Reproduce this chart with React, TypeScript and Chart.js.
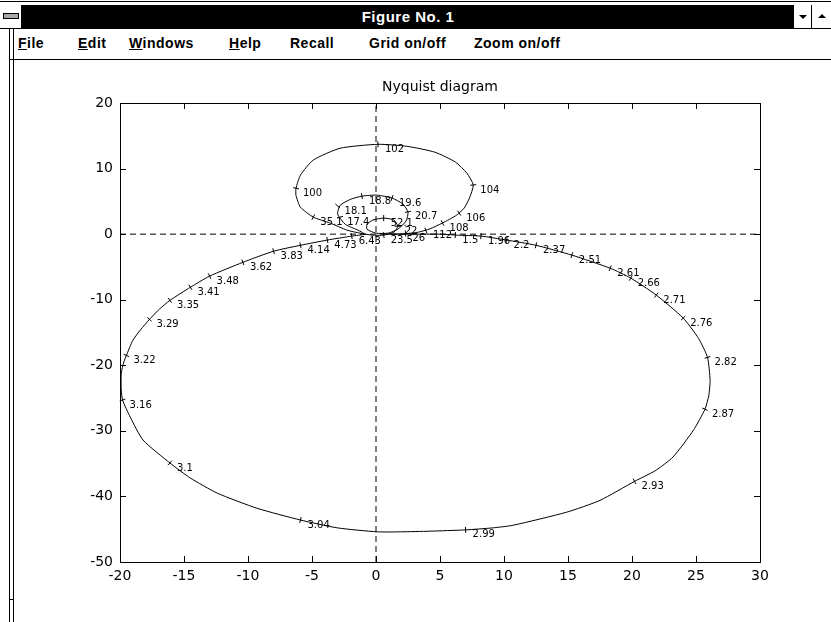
import React, { useEffect, useRef } from "react";
import { Chart, registerables } from "chart.js";

Chart.register(...registerables);

// ---------- data ----------
const windowTitle = "Figure No. 1";
const menuItems = ["File", "Edit", "Windows", "Help", "Recall", "Grid on/off", "Zoom on/off"];
const menuUnderlined = [true, true, true, true, false, false, false];
const chartTitle = "Nyquist diagram";

const xTicks = [-20, -15, -10, -5, 0, 5, 10, 15, 20, 25, 30];
const yTicks = [-50, -40, -30, -20, -10, 0, 10, 20];

// Nyquist path (real part / imaginary part)
const nyqX = [
  0.7, 1.9, 3.4, 5.0, 6.25, 8.2, 10.2, 12.5, 15.3, 18.3, 19.9, 21.9, 24.0, 25.2, 25.9, 26.1, 26.0, 25.7,
  24.8, 23.2, 21.8, 20.2, 17.5, 14.9, 10.7, 9.1, 7.0, 4.2, 1.9, 0.1, -3.0, -5.9, -9.3, -12.4, -14.5, -16.1,
  -18.2, -19.2, -19.8, -19.9, -19.9, -19.7, -19.5, -19.0, -18.4, -17.7, -16.9, -16.1, -14.5, -13.0, -10.4,
  -8.0, -5.9, -3.8, -1.9, -0.9,
  -1.4, -2.4, -3.0, -2.8, -2.0, -1.1, 0.1, 1.25, 2.1, 2.5, 2.35, 1.7, 0.95, 0, -0.7, -0.7, -0.25, 0.6, 1.4,
  1.7, 1.4, 0.6, -0.3, -1.25,
  -2.25, -3.6, -4.9, -5.9, -6.25, -6.25, -5.9, -4.9, -2.8, 0.15, 2.4, 4.6, 6.2, 7.1, 7.6, 7.3, 6.9, 6.3, 5.2,
  4.2, 3.3, 2.2, 1.2,
];
const nyqY = [
  0, 0, 0, 0, -0.15, -0.3, -0.9, -1.7, -3.2, -5.2, -6.7, -9.3, -12.8, -15.9, -18.8, -22.3, -24.6, -26.7,
  -29.9, -34.0, -36.1, -37.7, -40.6, -42.4, -44.4, -44.8, -45.1, -45.3, -45.4, -45.4, -44.8, -43.6, -41.8,
  -39.5, -37.2, -34.9, -31.4, -27.9, -25.3, -23.8, -21.2, -19.5, -18.5, -16.2, -14.6, -13.0, -11.4, -10.1,
  -8.1, -6.4, -4.3, -2.6, -1.7, -0.9, -0.3, 0,
  0.6, 1.5, 3.05, 4.4, 5.3, 5.8, 5.95, 5.5, 4.6, 3.35, 2.0, 0.75, 0.15, 0.15, 0.75, 1.5, 2.15, 2.45, 2.15,
  1.2, 0.3, -0.15, -0.15, 0.15,
  0.6, 1.7, 2.6, 4.1, 5.9, 7.0, 9.0, 11.3, 13.1, 13.7, 13.4, 12.5, 11.0, 9.3, 7.5, 5.5, 4.0, 2.9, 1.7,
  0.8, 0.3, 0.05, 0,
];

// frequency marks along the curve
const markLabels = [
  "1.5", "1.96", "2.2", "2.37", "2.51", "2.61", "2.66", "2.71", "2.76", "2.82", "2.87", "2.93", "2.99",
  "3.04", "3.1", "3.16", "3.22", "3.29", "3.35", "3.41", "3.48", "3.62", "3.83", "4.14", "4.73", "6.43",
  "17.4", "18.1", "18.8", "19.6", "20.7", "35.1", "52.1", "22", "23.5", "26",
  "100", "102", "104", "106", "108", "112",
];
const markX = [
  6.2, 8.2, 10.2, 12.5, 15.3, 18.3, 19.9, 21.9, 24.0, 25.9, 25.7, 20.2, 7.0,
  -5.9, -16.1, -19.8, -19.5, -17.7, -16.1, -14.5, -13.0, -10.4, -8.0, -5.9, -3.8, -1.9,
  -2.8, -3.0, -1.1, 1.25, 2.5, -4.9, 0.6, 1.7, 0.6, 2.3,
  -6.25, 0.15, 7.6, 6.5, 5.2, 3.9,
];
const markY = [
  -0.15, -0.3, -0.9, -1.7, -3.2, -5.2, -6.7, -9.3, -12.8, -18.8, -26.7, -37.7, -45.1,
  -43.6, -34.9, -25.3, -18.5, -13.0, -10.1, -8.1, -6.4, -4.3, -2.6, -1.7, -0.9, -0.3,
  2.6, 4.3, 5.8, 5.5, 3.4, 2.6, 2.45, 1.2, -0.15, 0.1,
  7.0, 13.7, 7.5, 3.2, 1.7, 0.55,
];

const FONT = "'DejaVu Sans', 'Liberation Sans', sans-serif";

const matlabPlugin = {
  id: "matlabAxes",
  afterDatasetsDraw(chart: any) {
    const { ctx, chartArea: a, scales } = chart;
    const xs = scales.x;
    const ys = scales.y;
    ctx.save();
    ctx.strokeStyle = "#000";
    ctx.lineWidth = 1;
    // box
    ctx.strokeRect(Math.round(a.left) + 0.5, Math.round(a.top) + 0.5, Math.round(a.right - a.left), Math.round(a.bottom - a.top));
    // inward ticks
    const tl = 6;
    ctx.beginPath();
    xTicks.forEach((v) => {
      const px = Math.round(xs.getPixelForValue(v)) + 0.5;
      ctx.moveTo(px, a.bottom);
      ctx.lineTo(px, a.bottom - tl);
      ctx.moveTo(px, a.top);
      ctx.lineTo(px, a.top + tl);
    });
    yTicks.forEach((v) => {
      const py = Math.round(ys.getPixelForValue(v)) + 0.5;
      ctx.moveTo(a.left, py);
      ctx.lineTo(a.left + tl, py);
      ctx.moveTo(a.right, py);
      ctx.lineTo(a.right - tl, py);
    });
    ctx.stroke();

    // title
    ctx.fillStyle = "#000";
    ctx.font = `14px ${FONT}`;
    ctx.textAlign = "center";
    ctx.textBaseline = "middle";
    ctx.fillText(chartTitle, (a.left + a.right) / 2, a.top - 16);

    // curve pixel coords
    const pts = nyqX.map((x, i) => [xs.getPixelForValue(x), ys.getPixelForValue(nyqY[i])]);
    ctx.font = `10px ${FONT}`;
    ctx.textAlign = "left";
    ctx.textBaseline = "middle";
    ctx.beginPath();
    markLabels.forEach((lab, i) => {
      const px = xs.getPixelForValue(markX[i]);
      const py = ys.getPixelForValue(markY[i]);
      // nearest path point for tangent direction
      let best = 0;
      let bd = Infinity;
      pts.forEach((p, j) => {
        const d = (p[0] - px) ** 2 + (p[1] - py) ** 2;
        if (d < bd) {
          bd = d;
          best = j;
        }
      });
      const p0 = pts[Math.max(0, best - 1)];
      const p1 = pts[Math.min(pts.length - 1, best + 1)];
      let tx = p1[0] - p0[0];
      let ty = p1[1] - p0[1];
      const len = Math.hypot(tx, ty) || 1;
      tx /= len;
      ty /= len;
      const nx = -ty * 3;
      const ny = tx * 3;
      ctx.moveTo(px - nx, py - ny);
      ctx.lineTo(px + nx, py + ny);
      ctx.fillText(lab, px + 7, py + 5);
    });
    ctx.stroke();
    ctx.restore();
  },
};

function NyquistChart() {
  const ref = useRef<HTMLCanvasElement | null>(null);
  useEffect(() => {
    if (!ref.current) return;
    const chart = new Chart(ref.current, {
      type: "scatter",
      data: {
        datasets: [
          {
            data: [
              { x: -20, y: 0 },
              { x: 30, y: 0 },
            ],
            showLine: true,
            borderColor: "#000",
            borderWidth: 1,
            borderDash: [6, 4],
            pointRadius: 0,
          },
          {
            data: [
              { x: 0, y: -50 },
              { x: 0, y: 20 },
            ],
            showLine: true,
            borderColor: "#000",
            borderWidth: 1,
            borderDash: [6, 4],
            pointRadius: 0,
          },
          {
            data: nyqX.map((x, i) => ({ x, y: nyqY[i] })),
            showLine: true,
            borderColor: "#000",
            borderWidth: 1,
            pointRadius: 0,
            tension: 0.2,
          },
        ],
      },
      options: {
        animation: false,
        responsive: false,
        maintainAspectRatio: false,
        events: [],
        layout: { padding: { left: 0, right: 71, top: 42, bottom: 35 } },
        plugins: { legend: { display: false }, tooltip: { enabled: false }, title: { display: false } },
        scales: {
          x: {
            type: "linear",
            min: -20,
            max: 30,
            afterBuildTicks: (s: any) => {
              s.ticks = xTicks.map((v) => ({ value: v }));
            },
            afterFit: (s: any) => {
              s.height = 25;
            },
            grid: { display: false, drawTicks: false },
            border: { display: false },
            ticks: { color: "#000", font: { family: FONT, size: 14 }, padding: 6, maxRotation: 0, autoSkip: false },
          },
          y: {
            type: "linear",
            min: -50,
            max: 20,
            afterBuildTicks: (s: any) => {
              s.ticks = yTicks.map((v) => ({ value: v }));
            },
            afterFit: (s: any) => {
              s.width = 120;
            },
            grid: { display: false, drawTicks: false },
            border: { display: false },
            ticks: { color: "#000", font: { family: FONT, size: 14 }, padding: 7, autoSkip: false },
          },
        },
      },
      plugins: [matlabPlugin],
    } as any);
    return () => chart.destroy();
  }, []);
  return (
    <canvas
      ref={ref}
      width={831}
      height={561}
      style={{ position: "absolute", left: 0, top: 61, width: 831, height: 561, display: "block" }}
    />
  );
}

const menuLeft = [18, 78, 129, 229, 290, 369, 474];

export default function App() {
  return (
    <div
      style={{
        position: "fixed",
        left: 0,
        top: 0,
        width: 831,
        height: 622,
        background: "#fff",
        overflow: "hidden",
        fontFamily: "'Liberation Sans', Arial, sans-serif",
      }}
    >
      <NyquistChart />
      {/* outer top line */}
      <div style={{ position: "absolute", left: 0, top: 1, width: 831, height: 1, background: "#000" }} />
      {/* system menu box */}
      <div style={{ position: "absolute", left: 0, top: 5, width: 22, height: 23, background: "#fff", borderRight: "1px solid #000", boxSizing: "border-box" }}>
        <div style={{ position: "absolute", left: 3, top: 8, width: 14, height: 4, background: "#a8a8a8", border: "1px solid #000" }} />
      </div>
      {/* title bar */}
      <div
        style={{
          position: "absolute",
          left: 22,
          top: 5,
          width: 772,
          height: 23,
          background: "#000",
          color: "#fff",
          fontWeight: "bold",
          fontSize: 15,
          letterSpacing: 0.5,
          display: "flex",
          alignItems: "center",
          justifyContent: "center",
        }}
      >
        {windowTitle}
      </div>
      {/* min / max buttons */}
      <div style={{ position: "absolute", left: 794, top: 5, width: 18, height: 23, background: "#fff", borderRight: "1px solid #000", boxSizing: "border-box" }}>
        <div style={{ position: "absolute", left: 5, top: 10, width: 0, height: 0, borderLeft: "4px solid transparent", borderRight: "4px solid transparent", borderTop: "4px solid #000" }} />
      </div>
      <div style={{ position: "absolute", left: 813, top: 5, width: 18, height: 23, background: "#fff" }}>
        <div style={{ position: "absolute", left: 5, top: 9, width: 0, height: 0, borderLeft: "4px solid transparent", borderRight: "4px solid transparent", borderBottom: "4px solid #000" }} />
      </div>
      <div style={{ position: "absolute", left: 0, top: 28, width: 831, height: 1, background: "#000" }} />
      {/* menu bar */}
      {menuItems.map((m, i) => (
        <div
          key={m}
          style={{ position: "absolute", left: menuLeft[i], top: 35, fontSize: 14, fontWeight: "bold", letterSpacing: 0.5, color: "#000", whiteSpace: "nowrap" }}
        >
          {menuUnderlined[i] ? (
            <>
              <u>{m[0]}</u>
              {m.slice(1)}
            </>
          ) : (
            m
          )}
        </div>
      ))}
      <div style={{ position: "absolute", left: 9, top: 59, width: 822, height: 1, background: "#000" }} />
      {/* left window border */}
      <div style={{ position: "absolute", left: 9, top: 28, width: 1, height: 594, background: "#000" }} />
      <div style={{ position: "absolute", left: 13, top: 28, width: 1, height: 594, background: "#000" }} />
      <div style={{ position: "absolute", left: 9, top: 599, width: 5, height: 1, background: "#000" }} />
    </div>
  );
}
